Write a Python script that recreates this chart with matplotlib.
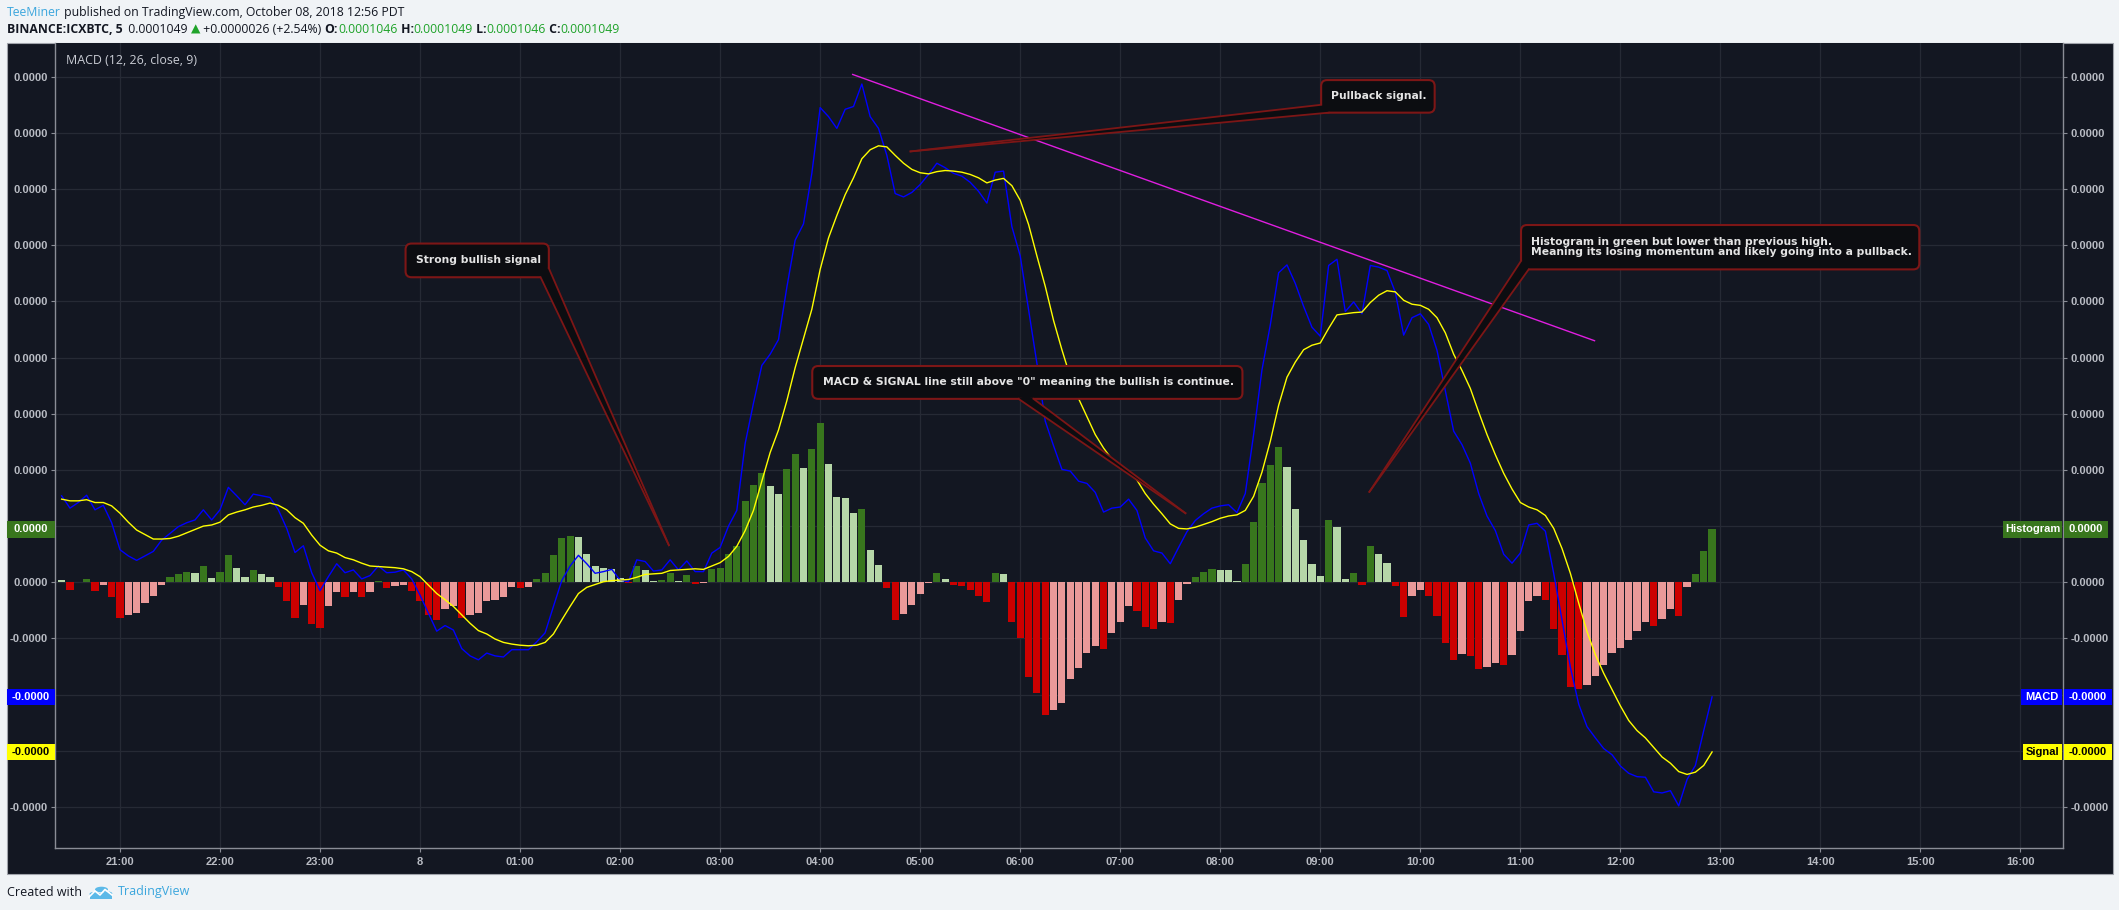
import numpy as np
import pandas as pd
import matplotlib
matplotlib.use("Agg")
import matplotlib.pyplot as plt
from matplotlib.patches import Rectangle, FancyBboxPatch, Polygon, Circle
from matplotlib.lines import Line2D
from matplotlib.transforms import IdentityTransform, blended_transform_factory
from matplotlib.ticker import FuncFormatter

# ---------------- data (MACD indicator, values in units of 1e-8 BTC) ----------------
SCALE = 1e-8
START = "2018-10-07 20:25"   # first 5-minute bar
hist = [0.04, -0.13, 0.01, 0.06, -0.15, -0.05, -0.26, -0.63, -0.59, -0.55,
        -0.36, -0.24, -0.05, 0.10, 0.15, 0.18, 0.17, 0.29, 0.08, 0.18,
        0.49, 0.26, 0.10, 0.22, 0.15, 0.10, -0.09, -0.34, -0.63, -0.40,
        -0.75, -0.81, -0.43, -0.18, -0.27, -0.18, -0.26, -0.17, 0.02, -0.11,
        -0.07, -0.04, -0.15, -0.34, -0.58, -0.68, -0.47, -0.43, -0.63, -0.59,
        -0.54, -0.33, -0.31, -0.27, -0.09, -0.10, -0.08, 0.06, 0.17, 0.49,
        0.79, 0.82, 0.81, 0.50, 0.29, 0.26, 0.24, 0.08, -0.01, 0.29,
        0.22, 0.03, 0.04, 0.17, 0.02, 0.13, -0.03, -0.02, 0.23, 0.26,
        0.51, 0.64, 1.45, 1.74, 1.95, 1.71, 1.57, 2.01, 2.29, 2.04,
        2.38, 2.83, 2.11, 1.51, 1.50, 1.24, 1.31, 0.58, 0.30, -0.11,
        -0.68, -0.56, -0.40, -0.21, -0.02, 0.16, 0.06, -0.05, -0.06, -0.14,
        -0.25, -0.35, 0.16, 0.15, -0.70, -0.99, -1.69, -1.97, -2.37, -2.28,
        -2.14, -1.72, -1.53, -1.25, -1.14, -1.18, -0.91, -0.70, -0.43, -0.52,
        -0.80, -0.84, -0.70, -0.72, -0.31, -0.03, 0.10, 0.19, 0.23, 0.22,
        0.21, 0.03, 0.32, 1.08, 1.76, 2.08, 2.40, 2.06, 1.31, 0.76,
        0.32, 0.12, 1.10, 0.98, 0.05, 0.17, -0.05, 0.65, 0.51, 0.35,
        -0.06, -0.62, -0.24, -0.14, -0.25, -0.60, -1.08, -1.38, -1.27, -1.31,
        -1.54, -1.50, -1.43, -1.47, -1.29, -0.87, -0.33, -0.24, -0.31, -0.84,
        -1.29, -1.87, -1.90, -1.82, -1.66, -1.47, -1.25, -1.17, -1.02, -0.86,
        -0.70, -0.78, -0.65, -0.48, -0.60, -0.09, 0.14, 0.55, 0.94]
macd = [1.54, 1.32, 1.42, 1.55, 1.29, 1.37, 1.06, 0.58, 0.47, 0.39,
        0.47, 0.55, 0.75, 0.87, 0.99, 1.06, 1.11, 1.29, 1.11, 1.29,
        1.69, 1.54, 1.38, 1.57, 1.54, 1.51, 1.29, 0.96, 0.53, 0.65,
        0.17, -0.15, 0.10, 0.33, 0.17, 0.22, 0.06, 0.12, 0.29, 0.17,
        0.18, 0.22, 0.06, -0.23, -0.55, -0.87, -0.77, -0.85, -1.18, -1.31,
        -1.38, -1.26, -1.31, -1.33, -1.20, -1.20, -1.20, -1.06, -0.90, -0.43,
        0.03, 0.29, 0.48, 0.33, 0.16, 0.19, 0.23, 0.04, 0.01, 0.40,
        0.37, 0.20, 0.22, 0.40, 0.22, 0.38, 0.19, 0.19, 0.52, 0.62,
        1.00, 1.28, 2.47, 3.19, 3.86, 4.06, 4.32, 5.25, 6.09, 6.38,
        7.28, 8.45, 8.29, 8.08, 8.42, 8.47, 8.87, 8.29, 8.08, 7.60,
        6.92, 6.86, 6.94, 7.08, 7.26, 7.46, 7.38, 7.28, 7.23, 7.12,
        6.96, 6.75, 7.30, 7.32, 6.33, 5.81, 4.86, 3.90, 2.87, 2.43,
        2.01, 1.98, 1.80, 1.76, 1.60, 1.25, 1.32, 1.34, 1.48, 1.28,
        0.79, 0.56, 0.52, 0.33, 0.62, 0.90, 1.10, 1.22, 1.32, 1.36,
        1.38, 1.24, 1.58, 2.63, 3.78, 4.58, 5.51, 5.65, 5.32, 4.91,
        4.54, 4.38, 5.64, 5.75, 4.82, 4.99, 4.78, 5.64, 5.61, 5.55,
        5.16, 4.40, 4.71, 4.78, 4.59, 4.13, 3.41, 2.69, 2.45, 2.12,
        1.58, 1.18, 0.92, 0.50, 0.34, 0.52, 1.02, 1.05, 0.91, 0.16,
        -0.68, -1.51, -2.17, -2.57, -2.77, -2.96, -3.07, -3.27, -3.40, -3.46,
        -3.47, -3.73, -3.75, -3.71, -3.98, -3.51, -3.26, -2.64, -2.04]
signal = [1.48, 1.45, 1.45, 1.47, 1.42, 1.42, 1.36, 1.23, 1.07, 0.93,
          0.85, 0.77, 0.77, 0.78, 0.82, 0.88, 0.94, 1.00, 1.02, 1.07,
          1.20, 1.25, 1.29, 1.34, 1.37, 1.41, 1.37, 1.29, 1.15, 1.05,
          0.84, 0.66, 0.56, 0.52, 0.44, 0.40, 0.34, 0.29, 0.28, 0.27,
          0.26, 0.24, 0.19, 0.10, -0.05, -0.20, -0.31, -0.43, -0.58, -0.73,
          -0.86, -0.92, -1.01, -1.07, -1.10, -1.12, -1.13, -1.12, -1.07, -0.92,
          -0.67, -0.43, -0.20, -0.09, -0.04, 0.01, 0.03, 0.04, 0.05, 0.09,
          0.14, 0.15, 0.16, 0.21, 0.22, 0.23, 0.24, 0.23, 0.29, 0.35,
          0.46, 0.64, 0.92, 1.28, 1.80, 2.31, 2.71, 3.23, 3.82, 4.34,
          4.86, 5.57, 6.13, 6.53, 6.90, 7.20, 7.54, 7.70, 7.77, 7.75,
          7.60, 7.46, 7.35, 7.29, 7.27, 7.31, 7.33, 7.32, 7.30, 7.26,
          7.20, 7.11, 7.16, 7.19, 7.06, 6.80, 6.37, 5.81, 5.27, 4.66,
          4.14, 3.66, 3.27, 2.95, 2.63, 2.39, 2.19, 2.06, 1.96, 1.82,
          1.58, 1.39, 1.22, 1.04, 0.96, 0.95, 0.98, 1.03, 1.08, 1.14,
          1.18, 1.20, 1.28, 1.53, 1.96, 2.51, 3.15, 3.65, 3.92, 4.14,
          4.22, 4.26, 4.52, 4.76, 4.78, 4.80, 4.81, 4.98, 5.11, 5.19,
          5.17, 5.02, 4.95, 4.93, 4.86, 4.71, 4.44, 4.06, 3.77, 3.45,
          3.03, 2.63, 2.27, 1.94, 1.66, 1.42, 1.34, 1.29, 1.19, 0.96,
          0.60, 0.16, -0.37, -0.88, -1.29, -1.62, -1.91, -2.20, -2.46, -2.64,
          -2.77, -2.94, -3.11, -3.22, -3.37, -3.42, -3.38, -3.26, -3.02]

tick_times = pd.date_range("2018-10-07 21:00", "2018-10-08 16:00", freq="h")
tick_labels = [t.strftime("%H:%M") if t.hour != 0 else str(t.day) for t in tick_times]
y_grid = np.arange(-4, 10)

# annotations (anchored in bar-index / value units)
trend_line = [(94.9, 9.04), (183.9, 4.30)]
callouts = [
    dict(text="Strong bullish signal",
         box=(41.26, 58.45, 5.43, 6.03), tip=(72.85, 0.66),
         base=[(58.45, 5.59), (57.46, 5.43)], txt=(42.55, 5.73)),
    dict(text="Pullback signal.",
         box=(151.1, 164.72, 8.36, 8.94), tip=(101.84, 7.67),
         base=[(151.1, 8.50), (152.0, 8.36)], txt=(152.3, 8.66)),
    dict(text='MACD & SIGNAL line still above "0" meaning the bullish is continue.',
         box=(90.05, 141.66, 3.265, 3.85), tip=(134.82, 1.23),
         base=[(114.8, 3.265), (116.6, 3.265)], txt=(91.32, 3.57)),
    dict(text="Histogram in green but lower than previous high.\n"
              "Meaning its losing momentum and likely going into a pullback.",
         box=(175.08, 222.86, 5.57, 6.36), tip=(156.89, 1.61),
         base=[(175.08, 5.72), (176.0, 5.57)], txt=(176.3, 5.97)),
]

# ---------------- style ----------------
W, H, DPI = 2119, 910, 100
BG = "#f0f3f6"
PANEL = "#131722"
GRID = "#262a35"
SPINE = "#8a8d96"
LABC = "#b9bcc4"
DGREEN, LGREEN, RED, PINK = "#38761d", "#b6d7a8", "#cc0000", "#ea9999"
BLUE, YELLOW, MAGENTA = "#0000ff", "#ffff00", "#e01ee0"
BOXFC, BOXEC, TXT = "#0c0d11", "#7d1616", "#e4e4e4"

plt.rcParams["font.family"] = ["Liberation Sans", "DejaVu Sans"]

fig = plt.figure(figsize=(W / DPI, H / DPI), dpi=DPI, facecolor=BG)


def fx(px):
    return px / W


def fy(py):
    return 1 - py / H


# dark chart panel
fig.patches.append(Rectangle((fx(6.5), fy(873.5)), fx(2112.5) - fx(6.5), fy(42.5) - fy(873.5),
                             transform=fig.transFigure, facecolor=PANEL,
                             edgecolor="#a0a3ab", lw=0.8, zorder=-5))

AX_L, AX_R, AX_T, AX_B = 55.3, 2063.0, 43.0, 848.0
ax = fig.add_axes([fx(AX_L), fy(AX_B), fx(AX_R) - fx(AX_L), fy(AX_T) - fy(AX_B)])
ax.set_facecolor(PANEL)

start = pd.Timestamp(START)
n = len(hist)
x = np.arange(n)
h = np.array(hist) * SCALE
m = np.array(macd) * SCALE
s = np.array(signal) * SCALE

colors = []
for i, v in enumerate(hist):
    rising = i > 0 and v > hist[i - 1]
    if v >= 0:
        colors.append(DGREEN if rising else LGREEN)
    else:
        colors.append(PINK if rising else RED)

ax.bar(x, h, width=0.86, color=colors, linewidth=0, zorder=3)
ax.plot(x, m, color=BLUE, lw=1.0, zorder=4)
ax.plot(x, s, color=YELLOW, lw=1.0, zorder=5)

ax.set_xlim(-0.76, 240.1)
ax.set_ylim(-4.73 * SCALE, 9.60 * SCALE)

tick_pos = (tick_times - start) / pd.Timedelta("5min")
ax.set_xticks(np.asarray(tick_pos, dtype=float))
ax.set_xticklabels(tick_labels)
ax.set_yticks(y_grid * SCALE)
ax.yaxis.set_major_formatter(FuncFormatter(lambda v, p: f"{v:.4f}"))
ax.grid(True, color=GRID, lw=0.9)
ax.set_axisbelow(True)

for side in ("left", "right", "bottom"):
    ax.spines[side].set_color(SPINE)
    ax.spines[side].set_linewidth(1.0)
ax.spines["top"].set_visible(False)

ax.tick_params(axis="y", left=True, right=True, labelleft=True, labelright=True,
               length=2.6, width=0.8, color=SPINE, labelcolor=LABC, labelsize=8.0, pad=2.8)
ax.tick_params(axis="x", length=3.0, width=0.8, color=SPINE, labelcolor=LABC,
               labelsize=8.0, pad=3.8)
for lab in ax.xaxis.get_majorticklabels() + ax.yaxis.get_majorticklabels():
    lab.set_fontweight("bold")

# trend line
ax.plot([p[0] for p in trend_line], [p[1] * SCALE for p in trend_line],
        color=MAGENTA, lw=1.0, zorder=6)

# callouts
fig.canvas.draw()
T = ax.transData
idt = IdentityTransform()
for c in callouts:
    k0, k1, v0, v1 = c["box"]
    (x0, y0) = T.transform((k0, v0 * SCALE))
    (x1, y1) = T.transform((k1, v1 * SCALE))
    box = FancyBboxPatch((x0, y0), x1 - x0, y1 - y0,
                         boxstyle="round,pad=0,rounding_size=6",
                         transform=idt, facecolor=BOXFC, edgecolor=BOXEC,
                         lw=1.5, zorder=20, clip_on=False)
    ax.add_patch(box)
    b1 = T.transform((c["base"][0][0], c["base"][0][1] * SCALE))
    b2 = T.transform((c["base"][1][0], c["base"][1][1] * SCALE))
    tp = T.transform((c["tip"][0], c["tip"][1] * SCALE))
    mid = (b1 + b2) / 2
    cen = np.array([(x0 + x1) / 2, (y0 + y1) / 2])
    d = cen - mid
    inner = mid + d / np.linalg.norm(d) * 3.5
    ax.add_patch(Polygon([b1, tp, b2, inner], closed=True, transform=idt,
                         facecolor=BOXFC, edgecolor="none", zorder=21, clip_on=False))
    for b in (b1, b2):
        ax.add_line(Line2D([b[0], tp[0]], [b[1], tp[1]], transform=idt,
                           color=BOXEC, lw=1.3, zorder=22, clip_on=False))
    ax.text(c["txt"][0], c["txt"][1] * SCALE, c["text"], color=TXT,
            family="DejaVu Sans", weight="bold", fontsize=7.75, ha="left",
            va="center", linespacing=0.95, zorder=23)

# price-scale labels (left and right)
bt = blended_transform_factory(ax.transAxes, ax.transData)
AXW = AX_R - AX_L


def axfrac(px):
    return (px - AX_L) / AXW


BOXH = 16.5 / 56.17


def label_box(px0, px1, val, fc, tc, text):
    ax.add_patch(Rectangle((axfrac(px0), (val - BOXH / 2) * SCALE), axfrac(px1) - axfrac(px0),
                           BOXH * SCALE, transform=bt, facecolor=fc, edgecolor="none",
                           zorder=30, clip_on=False))
    ax.text((axfrac(px0) + axfrac(px1)) / 2, val * SCALE, text, transform=bt,
            ha="center", va="center", color=tc, fontsize=8.0, fontweight="bold",
            zorder=31, clip_on=False)


items = [(hist[-1], DGREEN, "white", "Histogram", 2003),
         (macd[-1], BLUE, "white", "MACD", 2021),
         (signal[-1], YELLOW, "black", "Signal", 2023)]
for val, fc, tc, name, nx in items:
    vtxt = f"{val * SCALE:.4f}"
    label_box(6.7, AX_L, val, fc, tc, vtxt)
    label_box(AX_R + 0.5, 2112 if name != "Histogram" else 2108, val, fc, tc, vtxt)
    label_box(nx, AX_R - 1, val, fc, tc, name)

# indicator title
fig.text(fx(65.6), fy(61), "MACD (12, 26, close, 9)", color="#c9ccd4",
         family=["Open Sans", "DejaVu Sans"], fontsize=8.9, va="center", ha="left")

# header and footer text runs
renderer = fig.canvas.get_renderer()


def runs(px, py, parts, size):
    xcur = px
    for text, col, wt in parts:
        t = fig.text(fx(xcur), fy(py), text, color=col, fontsize=size, fontweight=wt,
                     family=["Open Sans", "DejaVu Sans"], va="center", ha="left")
        xcur += t.get_window_extent(renderer).width


DARK = "#131722"
GRN = "#1fa32a"
TVBLUE = "#3ba6dd"
runs(6.7, 12.5, [("TeeMiner", TVBLUE, "normal"),
                 (" published on TradingView.com, October 08, 2018 12:56 PDT", DARK, "normal")], 8.8)
runs(6.7, 29.3, [("BINANCE:ICXBTC, 5", DARK, "bold"), ("  0.0001049 ", DARK, "normal"),
                 ("\u25b2", GRN, "normal"), (" +0.0000026 (+2.54%) ", DARK, "normal"),
                 ("O:", DARK, "bold"), ("0.0001046", GRN, "normal"),
                 (" H:", DARK, "bold"), ("0.0001049", GRN, "normal"),
                 (" L:", DARK, "bold"), ("0.0001046", GRN, "normal"),
                 (" C:", DARK, "bold"), ("0.0001049", GRN, "normal")], 8.8)
runs(6.7, 892, [("Created with", DARK, "normal")], 9.0)
runs(117.7, 892, [("TradingView", TVBLUE, "normal")], 9.0)

# small cloud logo
for cx, cy, r in [(94.5, 894, 5.0), (101.5, 889.5, 6.5), (107.5, 893.5, 4.8)]:
    fig.patches.append(Circle((fx(cx), fy(cy)), r / W, transform=fig.transFigure,
                              facecolor="#5cb9e8", edgecolor="none", zorder=5))
fig.patches.append(Rectangle((fx(89.5), fy(898.5)), fx(112) - fx(89.5), fy(893) - fy(898.5),
                             transform=fig.transFigure, facecolor="#5cb9e8",
                             edgecolor="none", zorder=5))
fig.lines.append(Line2D([fx(89), fx(95), fx(100), fx(105), fx(112)],
                        [fy(897), fy(891), fy(895), fy(889.5), fy(895)],
                        transform=fig.transFigure, color="white", lw=1.2, zorder=6))

fig.savefig("out.png", dpi=DPI, facecolor=BG)
